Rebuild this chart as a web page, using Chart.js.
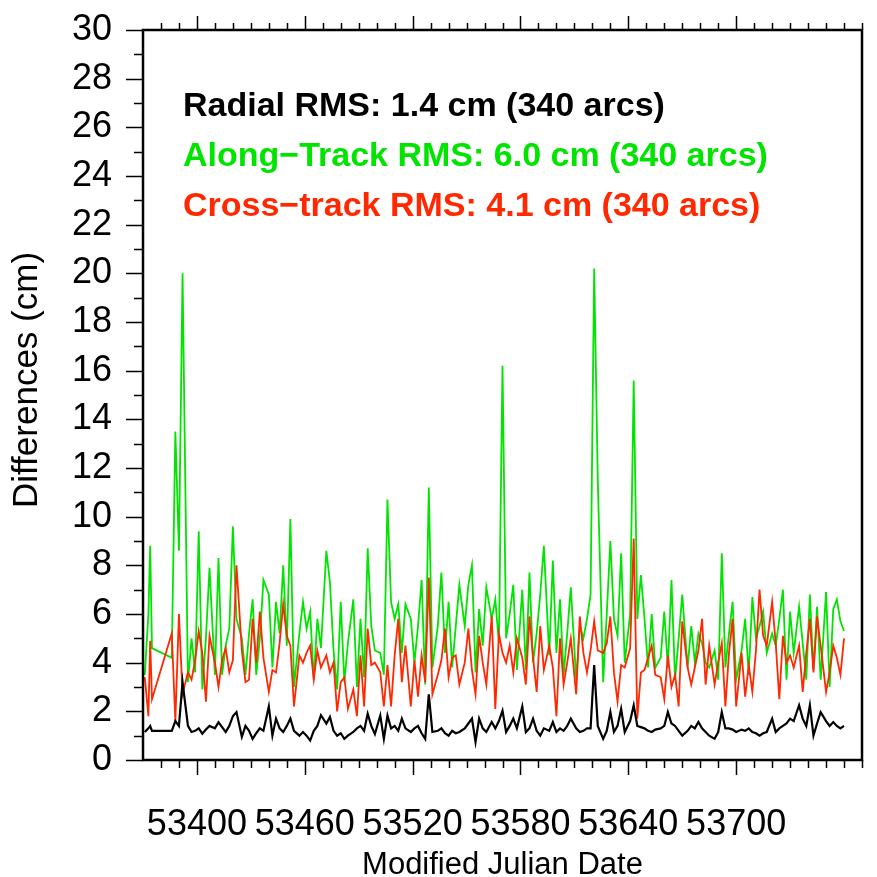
<!DOCTYPE html>
<html>
<head>
<meta charset="utf-8">
<script src="https://cdn.jsdelivr.net/npm/chart.js@4.4.1/dist/chart.umd.min.js"></script>
<style>
  html, body { margin: 0; padding: 0; background: #fff; }
  canvas { display: block; }
</style>
</head>
<body>
<canvas id="grafico" width="877" height="877"></canvas>
<script>

// Diferenças de órbita por arco (cm) x Modified Julian Date

const dias = [
  53371, 53373, 53374, 53375,
  53386, 53388, 53390, 53392, 53395, 53397, 53399, 53401, 53403, 53405,
  53407, 53410, 53412, 53414, 53416, 53418, 53420, 53422, 53425, 53427,
  53429, 53431, 53433, 53435, 53437, 53440, 53442, 53444, 53446, 53448,
  53450, 53452, 53454, 53457, 53459, 53461, 53463, 53465, 53467, 53469,
  53472, 53474, 53476, 53478, 53480, 53482, 53484, 53487, 53489, 53491,
  53493, 53495, 53497, 53499, 53502, 53504, 53506, 53508, 53510, 53512,
  53514, 53516, 53519, 53521, 53523, 53525, 53527, 53529, 53531, 53534,
  53536, 53538, 53540, 53542, 53544, 53546, 53549, 53551, 53553, 53555,
  53557, 53559, 53561, 53564, 53566, 53568, 53570, 53572, 53574, 53576,
  53578, 53581, 53583, 53585, 53587, 53589, 53591, 53593, 53596, 53598,
  53600, 53602, 53604, 53606, 53608, 53611, 53613, 53615, 53617, 53619,
  53621, 53623, 53626, 53628, 53630, 53632, 53634, 53636, 53638, 53641,
  53643, 53645, 53647, 53649, 53651, 53653, 53655, 53658, 53660, 53662,
  53664, 53666, 53668, 53670, 53673, 53675, 53677, 53679, 53681, 53683,
  53685, 53688, 53690, 53692, 53694, 53696, 53698, 53700, 53703, 53705,
  53707, 53709, 53711, 53713, 53715, 53717, 53720, 53722, 53724, 53726,
  53728, 53730, 53732, 53735, 53737, 53739, 53741, 53743, 53745, 53747,
  53750, 53752, 53754, 53756, 53758, 53760
]

const radial = [
  1.15, 1.3, 1.4, 1.2,
  1.2, 1.6, 1.4, 3.2, 1.4, 1.15, 1.2, 1.3, 1.08, 1.25,
  1.4, 1.3, 1.55, 1.35, 1.15, 1.4, 1.8, 1.97, 0.95, 1.4,
  1.2, 0.87, 1.1, 1.3, 1.2, 2.2, 1.0, 1.7, 1.3, 1.15,
  1.4, 1.7, 1.2, 1.0, 1.15, 1.0, 0.8, 1.2, 1.4, 1.84,
  1.5, 1.77, 1.2, 1.0, 1.1, 0.87, 1.0, 1.15, 1.3, 1.4,
  1.2, 1.9, 1.4, 1.07, 1.83, 0.87, 1.83, 1.3, 1.4, 1.2,
  1.7, 1.3, 1.15, 1.3, 1.4, 1.1, 0.87, 2.7, 1.15, 1.2,
  1.3, 1.1, 1.0, 1.2, 1.1, 1.15, 1.3, 1.5, 1.7, 0.74,
  1.7, 1.3, 1.15, 1.56, 1.3, 1.6, 2.03, 1.15, 1.4, 1.7,
  1.3, 2.2, 1.15, 1.3, 1.7, 1.2, 1.0, 1.3, 1.2, 1.56,
  1.15, 1.3, 1.2, 1.4, 1.7, 1.3, 1.15, 1.2, 1.3, 1.3,
  3.9, 1.4, 0.87, 1.2, 1.97, 1.15, 1.4, 2.1, 1.15, 1.6,
  2.25, 1.4, 1.35, 1.3, 1.2, 1.15, 1.25, 1.3, 1.4, 1.97,
  1.5, 1.4, 1.2, 1.0, 1.2, 1.4, 1.3, 1.56, 1.3, 1.15,
  1.0, 0.87, 1.15, 1.97, 1.3, 1.3, 1.25, 1.15, 1.25, 1.2,
  1.3, 1.15, 1.1, 1.0, 1.1, 1.15, 1.7, 1.15, 1.3, 1.4,
  1.5, 1.7, 1.6, 2.25, 1.7, 1.4, 2.25, 1.0, 1.5, 1.97,
  1.6, 1.4, 1.56, 1.4, 1.3, 1.4
]

const alongTrack = [
  3.5, 6.0, 8.8, 4.6,
  4.2, 13.5, 8.6, 20.0, 3.2, 5.0, 3.6, 9.4, 2.9, 5.0,
  7.9, 3.5, 8.3, 3.5, 4.7, 5.4, 9.6, 5.8, 5.0, 3.5,
  5.2, 6.6, 3.5, 5.0, 7.4, 6.8, 3.8, 6.5, 5.2, 8.0,
  4.7, 9.9, 3.0, 5.2, 6.5, 5.4, 6.1, 3.3, 5.8, 4.6,
  8.6, 7.3, 4.5, 2.9, 6.5, 3.2, 4.8, 6.6, 3.0, 5.8,
  3.4, 8.7, 5.5, 4.5, 4.4, 3.5, 10.7, 6.5, 5.8, 6.4,
  4.4, 6.4, 5.8, 4.0, 5.5, 7.4, 3.1, 11.2, 3.8, 5.5,
  7.7, 4.4, 6.5, 3.8, 5.5, 7.2, 5.5, 7.2, 8.0, 3.6,
  6.2, 4.7, 7.1, 5.8, 6.6, 4.8, 16.2, 5.0, 6.0, 7.2,
  3.7, 7.0, 3.7, 7.7, 4.0, 5.2, 6.8, 8.8, 4.3, 8.2,
  4.4, 6.6, 3.5, 5.2, 7.1, 3.3, 5.5, 5.0, 5.8, 6.8,
  20.2, 11.5, 3.2, 6.0, 9.0, 5.8, 5.1, 8.5, 4.0, 6.0,
  15.6, 5.8, 7.6, 5.8, 3.8, 6.0, 3.8, 4.2, 6.1, 3.8,
  7.4, 3.3, 5.0, 6.8, 3.8, 5.5, 4.0, 5.2, 4.8, 4.0,
  3.8, 4.5, 3.3, 8.5, 3.8, 5.2, 6.5, 3.3, 4.5, 5.8,
  3.5, 6.7, 5.0, 5.5, 6.1, 4.4, 5.2, 4.7, 5.8, 7.0,
  3.3, 6.1, 4.4, 6.3, 4.8, 3.3, 6.8, 3.7, 6.3, 3.3,
  6.9, 3.0, 6.2, 6.6, 5.7, 5.3
]

const crossTrack = [
  3.4, 1.8, 4.9, 2.5,
  5.2, 1.6, 6.0, 2.7, 3.6, 3.3, 4.1, 5.3, 4.4, 2.4,
  5.1, 4.0, 3.0, 4.1, 4.6, 3.6, 4.1, 8.0, 4.5, 3.2,
  3.3, 5.8, 4.0, 6.1, 4.2, 2.8, 3.7, 3.6, 4.8, 6.4,
  5.1, 4.7, 2.2, 4.3, 4.0, 4.4, 4.7, 3.3, 4.5, 3.8,
  4.3, 3.6, 4.0, 2.0, 3.2, 3.4, 2.1, 2.9, 1.8, 4.3,
  2.2, 5.4, 3.9, 4.0, 3.6, 2.2, 3.9, 2.2, 4.3, 5.8,
  3.2, 4.7, 2.2, 4.1, 2.6, 4.3, 3.2, 7.5, 2.7, 3.5,
  4.1, 5.4, 3.4, 4.2, 4.3, 3.1, 4.0, 5.4, 3.7, 2.7,
  5.1, 4.0, 3.1, 5.9, 2.1, 5.2, 4.4, 4.0, 4.7, 3.6,
  5.0, 4.2, 3.1, 5.9, 4.2, 2.8, 5.5, 3.7, 4.7, 3.8,
  1.8, 5.0, 3.1, 4.0, 5.0, 2.7, 5.9, 4.4, 3.6, 4.5,
  5.7, 4.5, 4.4, 4.8, 5.9, 3.6, 2.4, 3.9, 3.8, 4.6,
  9.1, 1.7, 3.6, 3.7, 4.2, 4.7, 3.5, 3.4, 2.5, 4.3,
  3.0, 3.5, 2.2, 5.7, 3.8, 3.1, 3.8, 4.5, 5.8, 3.1,
  4.7, 3.1, 4.0, 4.8, 2.2, 4.4, 5.8, 2.2, 4.4, 2.6,
  3.9, 2.8, 4.5, 7.0, 5.1, 4.7, 6.5, 4.8, 2.5, 5.1,
  4.0, 4.3, 3.8, 4.7, 2.8, 4.4, 5.8, 3.6, 5.9, 4.7,
  2.8, 3.6, 4.7, 4.2, 3.5, 5.0
]

// rótulos dos eixos
const rotulosX = [53400, 53460, 53520, 53580, 53640, 53700]
const rotulosY = [0, 2, 4, 6, 8, 10, 12, 14, 16, 18, 20, 22, 24, 26, 28, 30]
const tituloY = 'Differences (cm)'

const textos = [
  'Radial RMS: 1.4 cm (340 arcs)',
  'Along\u2212Track RMS: 6.0 cm (340 arcs)',
  'Cross\u2212track RMS: 4.1 cm (340 arcs)'
]

const verde = '#00e400'
const vermelho = '#ff2800'
const preto = '#000000'
const coresTexto = [preto, verde, vermelho]

function pontos(valores) {
    return dias.map((d, i) => ({ x: d, y: valores[i] }))
}

Chart.defaults.font.family = '"Liberation Sans", Arial, Helvetica, sans-serif'
Chart.defaults.color = '#000'

// moldura, marcas dos eixos, título do eixo y e textos de RMS
const moldura = {
    id: 'moldura',
    afterDraw(chart) {
        const ctx = chart.ctx
        const { left, right, top, bottom } = chart.chartArea
        const sx = chart.scales.x
        const sy = chart.scales.y
        ctx.save()
        ctx.strokeStyle = '#000'
        ctx.lineWidth = 1.5
        ctx.beginPath()
        sy.ticks.forEach(t => {
            const y = Math.round(sy.getPixelForValue(t.value)) + 0.5
            const len = rotulosY.includes(t.value) ? 17 : 9
            ctx.moveTo(left - len, y)
            ctx.lineTo(left, y)
        })
        sx.ticks.forEach(t => {
            const x = Math.round(sx.getPixelForValue(t.value)) + 0.5
            const maior = rotulosX.includes(t.value)
            ctx.moveTo(x, bottom)
            ctx.lineTo(x, bottom + (maior ? 15 : 8))
            ctx.moveTo(x, top)
            ctx.lineTo(x, top - (maior ? 14 : 7))
        })
        ctx.stroke()

        ctx.lineWidth = 2.5
        ctx.strokeRect(left, top, right - left, bottom - top)

        ctx.fillStyle = '#000'
        ctx.font = '35px "Liberation Sans", Arial, sans-serif'
        ctx.textAlign = 'center'
        ctx.textBaseline = 'middle'
        ctx.save()
        ctx.translate(27, (top + bottom) / 2 - 15)
        ctx.rotate(-Math.PI / 2)
        ctx.fillText(tituloY, 0, 0)
        ctx.restore()

        ctx.font = 'bold 34px "Liberation Sans", Arial, sans-serif'
        ctx.textAlign = 'left'
        textos.forEach((t, i) => {
            ctx.fillStyle = coresTexto[i]
            ctx.fillText(t, left + 40, top + 77 + i * 50)
        })
        ctx.restore()
    }
}

const grafico = document.getElementById('grafico')

new Chart(grafico, {
    type: 'line',
    data: {
        datasets: [
            {
                label: 'Radial',
                data: pontos(radial),
                borderColor: preto,
                borderWidth: 2.2,
                pointRadius: 0
            },
            {
                label: 'Cross-track',
                data: pontos(crossTrack),
                borderColor: vermelho,
                borderWidth: 1.8,
                pointRadius: 0
            },
            {
                label: 'Along-Track',
                data: pontos(alongTrack),
                borderColor: verde,
                borderWidth: 1.8,
                pointRadius: 0
            }
        ]
    },
    options: {
        responsive: false,
        animation: false,
        devicePixelRatio: 1,
        layout: {
            padding: { left: 0, right: 15, top: 30, bottom: 0 }
        },
        plugins: {
            legend: { display: false },
            tooltip: { enabled: false }
        },
        scales: {
            x: {
                type: 'linear',
                min: 53370,
                max: 53770,
                afterBuildTicks: (scale) => {
                    const lista = []
                    for (let v = 53380; v <= 53770; v += 10) lista.push({ value: v })
                    scale.ticks = lista
                },
                afterFit: (scale) => {
                    scale.height = 117
                    scale.paddingLeft = 0
                    scale.paddingRight = 0
                },
                grid: { display: false, drawTicks: false },
                border: { display: false },
                ticks: {
                    autoSkip: false,
                    maxRotation: 0,
                    padding: 43,
                    font: { size: 36 },
                    callback: (v) => rotulosX.includes(v) ? String(v) : ''
                },
                title: {
                    display: true,
                    text: 'Modified Julian Date',
                    font: { size: 31, lineHeight: 1 },
                    padding: { top: 0, bottom: -4 }
                }
            },
            y: {
                min: 0,
                max: 30,
                afterBuildTicks: (scale) => {
                    const lista = []
                    for (let v = 0; v <= 30; v += 1) lista.push({ value: v })
                    scale.ticks = lista
                },
                afterFit: (scale) => {
                    scale.width = 143
                    scale.paddingTop = 0
                    scale.paddingBottom = 0
                },
                grid: { display: false, drawTicks: false },
                border: { display: false },
                ticks: {
                    autoSkip: false,
                    padding: 31,
                    font: { size: 36 },
                    callback: (v) => rotulosY.includes(v) ? String(v) : ''
                }
            }
        }
    },
    plugins: [moldura]
})
</script>
</body>
</html>
